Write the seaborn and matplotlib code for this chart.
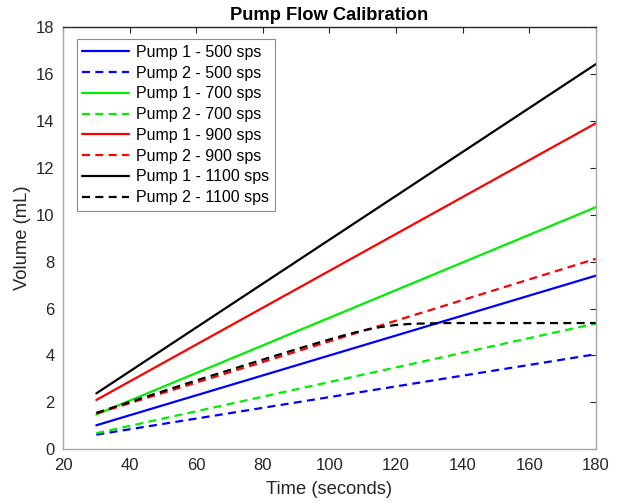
import matplotlib
matplotlib.use("Agg")
import matplotlib.pyplot as plt
import seaborn as sns
import pandas as pd

# ---- data ----
t_lin = [30, 180]
p1_500 = [1.02, 7.40]
p2_500 = [0.62, 4.05]
p1_700 = [1.48, 10.32]
p2_700 = [0.68, 5.36]
p1_900 = [2.10, 13.90]
p2_900 = [1.52, 8.12]
p1_1100 = [2.38, 16.42]
t_p2_1100 = [30, 45, 60, 75, 90, 100, 105, 110, 115, 120, 125, 135, 150, 180]
p2_1100 = [1.55, 2.24, 2.93, 3.60, 4.26, 4.68, 4.88, 5.06, 5.20, 5.30, 5.35, 5.38, 5.38, 5.38]

labels = ["Pump 1 - 500 sps", "Pump 2 - 500 sps", "Pump 1 - 700 sps", "Pump 2 - 700 sps",
          "Pump 1 - 900 sps", "Pump 2 - 900 sps", "Pump 1 - 1100 sps", "Pump 2 - 1100 sps"]
colors = ["#0000ff", "#0000ff", "#00ee00", "#00ee00", "#ff0000", "#ff0000", "#000000", "#000000"]
styles = ["-", "--", "-", "--", "-", "--", "-", "--"]
series_x = [t_lin] * 7 + [t_p2_1100]
series_y = [p1_500, p2_500, p1_700, p2_700, p1_900, p2_900, p1_1100, p2_1100]

sns.set_style("white")
plt.rcParams['font.family'] = ['Liberation Sans', 'DejaVu Sans']

fig = plt.figure(figsize=(6.18, 5.03), dpi=100)
ax = fig.add_axes([0.102, 0.107, 0.862, 0.839])

for xs, ys, lab, c, ls in zip(series_x, series_y, labels, colors, styles):
    df = pd.DataFrame({"t": xs, "v": ys})
    sns.lineplot(data=df, x="t", y="v", ax=ax, color=c, linewidth=1.6, label=lab)
    line = ax.get_lines()[-1]
    if ls == "--":
        line.set_dashes((3.6, 2.4))

ax.set_xlim(20, 180)
ax.set_ylim(0, 18)
ax.set_xticks(range(20, 181, 20))
ax.set_yticks(range(0, 19, 2))
ax.tick_params(direction="in", length=4, width=0.8, colors="#262626", labelsize=12,
               top=True, right=True, pad=6)
for s in ax.spines.values():
    s.set_color("#a6a6a6")
    s.set_linewidth(1.0)
    s.set_visible(True)
ax.spines["top"].set_color("#262626")

ax.set_xlabel("Time (seconds)", fontsize=13.2, color="#262626", labelpad=6)
ax.set_ylabel("Volume (mL)", fontsize=13.2, color="#262626", labelpad=4)
ax.set_title("Pump Flow Calibration", fontsize=13.2, fontweight="bold", color="#000000", pad=5)

leg = ax.legend(loc="upper left", bbox_to_anchor=(0.026, 0.971), fontsize=11.5, frameon=True,
                fancybox=False, edgecolor="#8c8c8c", framealpha=1, handlelength=2.9,
                labelspacing=0.36, borderpad=0.35, handletextpad=0.45, borderaxespad=0)
leg.get_frame().set_linewidth(0.8)
for txt in leg.get_texts():
    txt.set_color("#000000")

fig.savefig("out.png", dpi=100)
